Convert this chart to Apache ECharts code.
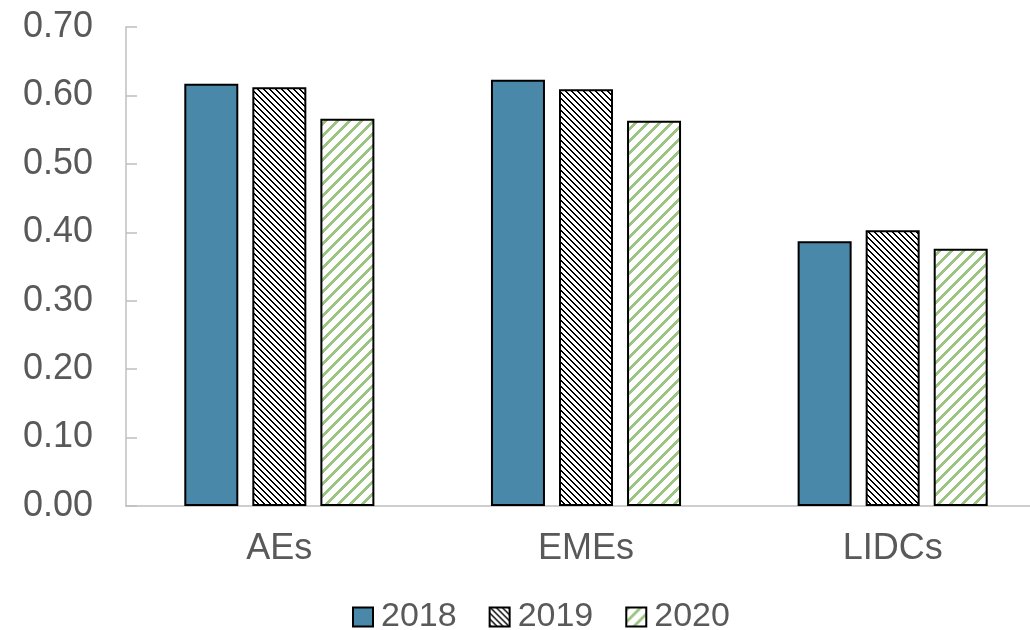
<!DOCTYPE html>
<html lang="en">
<head>
    <meta charset="UTF-8">
    <title>Index by group</title>
    <script src="https://cdn.jsdelivr.net/npm/echarts@6/dist/echarts.min.js"></script>
    <style>
        html, body { margin: 0; padding: 0; background: #fff; overflow: hidden; }
    </style>
</head>
<body>
    <!-- the original plot runs past the right edge of the picture, so the chart is a bit wider than the page -->
    <div id="main" style="width:1046px;height:630px;"></div>

    <script>
    // data
    var groups = ['AEs', 'EMEs', 'LIDCs'];
    var years = ['2018', '2019', '2020'];
    var v2018 = [0.617, 0.623, 0.387];
    var v2019 = [0.612, 0.609, 0.403];
    var v2020 = [0.566, 0.563, 0.376];
    var yTicks = [0, 0.1, 0.2, 0.3, 0.4, 0.5, 0.6, 0.7];

    // crisp pixel hatch tile; dir 1 = "/", dir -1 = "\"
    function hatch(period, thick, color, dir) {
        var c = document.createElement('canvas');
        c.width = period; c.height = period;
        var ctx = c.getContext('2d');
        ctx.fillStyle = '#fff';
        ctx.fillRect(0, 0, period, period);
        ctx.fillStyle = color;
        for (var y = 0; y < period; y++) {
            for (var x = 0; x < period; x++) {
                var d = dir > 0 ? (x + y) : (x - y + period);
                if (d % period < thick) ctx.fillRect(x, y, 1, 1);
            }
        }
        return c;
    }

    var fills = [
        '#4a88a9',
        { image: hatch(6, 2, '#000', -1), repeat: 'repeat' },
        { image: hatch(12, 4, '#9bc480', 1), repeat: 'repeat' }
    ];
    var values = [v2018, v2019, v2020];

    var myChart = echarts.init(document.getElementById('main'));
    var series = years.map(function (y, i) {
        return {
            name: y,
            type: 'bar',
            data: values[i],
            barWidth: 54,
            barGap: '26%',
            itemStyle: { color: fills[i], borderColor: '#000', borderWidth: 2 }
        };
    });

    myChart.setOption({
        animation: false,
        backgroundColor: '#fff',
        grid: { left: 126, right: 0, top: 27, bottom: 124, containLabel: false },
        legend: {
            data: years,
            top: 595,
            left: 347,
            itemWidth: 20,
            itemHeight: 19,
            itemGap: 32,
            icon: 'rect',
            textStyle: { fontFamily: 'Liberation Sans, Arial', fontSize: 34, color: '#595959', padding: [0, 0, 0, 3] }
        },
        xAxis: {
            type: 'category',
            data: groups,
            axisLine: { lineStyle: { color: '#bfbfbf', width: 1.5 } },
            axisTick: { inside: true, length: 11, lineStyle: { color: '#bfbfbf', width: 1.5 } },
            axisLabel: { fontFamily: 'Liberation Sans, Arial', fontSize: 36, color: '#595959', margin: 25 }
        },
        yAxis: {
            type: 'value',
            min: yTicks[0],
            max: yTicks[yTicks.length - 1],
            interval: 0.1,
            axisLine: { show: true, lineStyle: { color: '#bfbfbf', width: 1.5 } },
            axisTick: { show: true, inside: true, length: 11, lineStyle: { color: '#bfbfbf', width: 1.5 } },
            splitLine: { show: false },
            axisLabel: {
                fontFamily: 'Liberation Sans, Arial', fontSize: 36, color: '#595959', margin: 33,
                formatter: function (v) { return v.toFixed(2); }
            }
        },
        series: series
    });

    window.onresize = function () {
        myChart.resize();
    };
    </script>
</body>
</html>
